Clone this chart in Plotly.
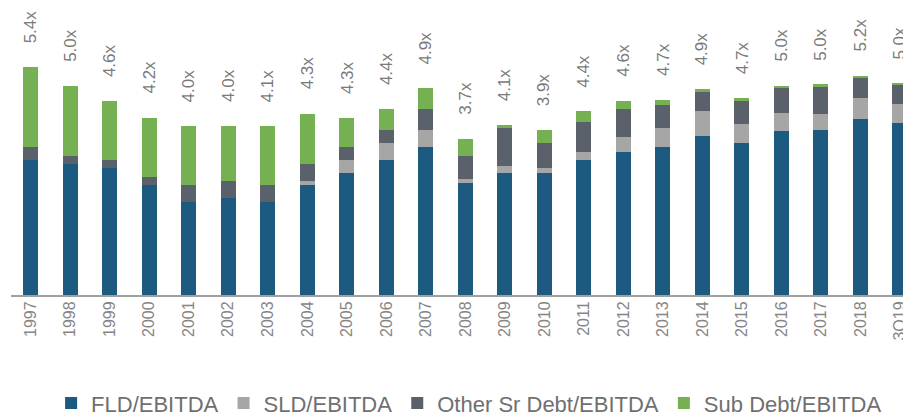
import plotly.graph_objects as go

categories = ["1997", "1998", "1999", "2000", "2001", "2002", "2003", "2004", "2005", "2006",
              "2007", "2008", "2009", "2010", "2011", "2012", "2013", "2014", "2015", "2016",
              "2017", "2018", "3Q19"]
fld = [3.2, 3.1, 3.0, 2.6, 2.2, 2.3, 2.2, 2.6, 2.9, 3.2, 3.5, 2.65, 2.9, 2.9, 3.2, 3.4, 3.5,
       3.77, 3.6, 3.89, 3.91, 4.16, 4.08]
sld = [0.0, 0.0, 0.0, 0.0, 0.0, 0.0, 0.0, 0.1, 0.3, 0.4, 0.4, 0.1, 0.15, 0.1, 0.2, 0.35, 0.45,
       0.58, 0.46, 0.43, 0.38, 0.5, 0.44]
other_sr = [0.3, 0.2, 0.2, 0.2, 0.4, 0.4, 0.4, 0.4, 0.3, 0.3, 0.5, 0.55, 0.9, 0.6, 0.7, 0.65,
            0.55, 0.46, 0.54, 0.59, 0.65, 0.49, 0.47]
sub = [1.9, 1.65, 1.4, 1.4, 1.4, 1.3, 1.4, 1.2, 0.7, 0.5, 0.5, 0.4, 0.08, 0.3, 0.25, 0.2, 0.13,
       0.06, 0.07, 0.05, 0.05, 0.05, 0.03]
total_labels = ["5.4x", "5.0x", "4.6x", "4.2x", "4.0x", "4.0x", "4.1x", "4.3x", "4.3x", "4.4x",
                "4.9x", "3.7x", "4.1x", "3.9x", "4.4x", "4.6x", "4.7x", "4.9x", "4.7x", "5.0x",
                "5.0x", "5.2x", "5.0x"]
series_names = ["FLD/EBITDA", "SLD/EBITDA", "Other Sr Debt/EBITDA", "Sub Debt/EBITDA"]

colors = ["#1d5a80", "#a6a6a6", "#5b616b", "#75b052"]
series = [fld, sld, other_sr, sub]

fig = go.Figure()
for name, vals, col in zip(series_names, series, colors):
    fig.add_trace(go.Bar(x=categories, y=vals, name=name, marker_color=col,
                         marker_line_width=0, width=0.38))

totals = [a + b + c + d for a, b, c, d in zip(fld, sld, other_sr, sub)]
for i, (tot, lab) in enumerate(zip(totals, total_labels)):
    fig.add_annotation(x=i, y=tot, text=lab, textangle=-90, showarrow=False,
                       yanchor="bottom", yshift=22,
                       font=dict(family="Liberation Sans, Arial", size=17, color="#7a7a7a"))

# page body has an 8px margin, so the figure is sized 8px smaller each way
fig.update_layout(
    barmode="stack",
    width=903, height=410,
    margin=dict(l=3, r=0, t=0, b=123, autoexpand=False),
    paper_bgcolor="white", plot_bgcolor="white",
    font=dict(family="Liberation Sans, Arial", color="#7a7a7a"),
    showlegend=True,
    legend=dict(orientation="h", x=0.509, xanchor="center", yref="container",
                y=0.036, yanchor="middle",
                font=dict(size=22, color="#6f6f6f"), traceorder="normal",
                itemwidth=30),
    xaxis=dict(type="category", range=[-0.5, 22.28], tickangle=-90, showline=True,
               linecolor="#a0a0a0", linewidth=2, showgrid=False, ticks="",
               ticklabelstandoff=-2, automargin=False,
               tickfont=dict(size=16, color="#858585")),
    yaxis=dict(range=[0, 6.80], visible=False, showgrid=False, zeroline=False,
               automargin=False),
)

fig.write_html("out.html")
